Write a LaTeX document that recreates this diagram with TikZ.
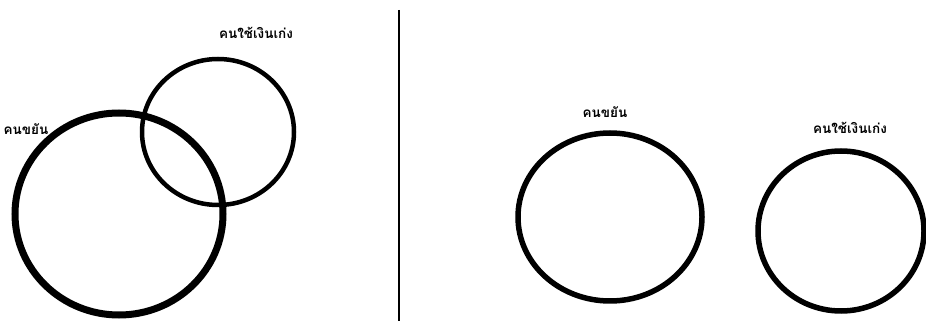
\documentclass[tikz,border=0pt]{standalone}
\usepackage{fontspec}
\newfontfamily\thaifont[Script=Thai]{Loma}
\begin{document}
\begin{tikzpicture}[x=1pt,y=1pt,
  ring/.style={draw=black},
  lbl/.style={font=\thaifont\bfseries\fontsize{13.5}{15}\selectfont, inner sep=0pt}]
\useasboundingbox (0,0) rectangle (926,321);
% left side
\draw[ring, line width=7pt] (119,107) ellipse [x radius=104, y radius=101];
\draw[ring, line width=4.5pt] (218,189) ellipse [x radius=76, y radius=73];
\node[lbl] (a1) at (256,288) {คนใช้เงินเก่ง};
\node[lbl] (b1) at (26,192) {คนขยัน};
% divider
\coordinate (t) at (399,311);
\coordinate (bt) at (399,0);
\draw[line width=1.5pt] (t) -- (bt);
% right side
\draw[ring, line width=5.5pt] (610,104) ellipse [x radius=92, y radius=84];
\draw[ring, line width=5.5pt] (841,90) ellipse [x radius=83, y radius=80];
\node[lbl] (b2) at (605,209) {คนขยัน};
\node[lbl] (a2) at (850,193) {คนใช้เงินเก่ง};
\end{tikzpicture}
\end{document}
